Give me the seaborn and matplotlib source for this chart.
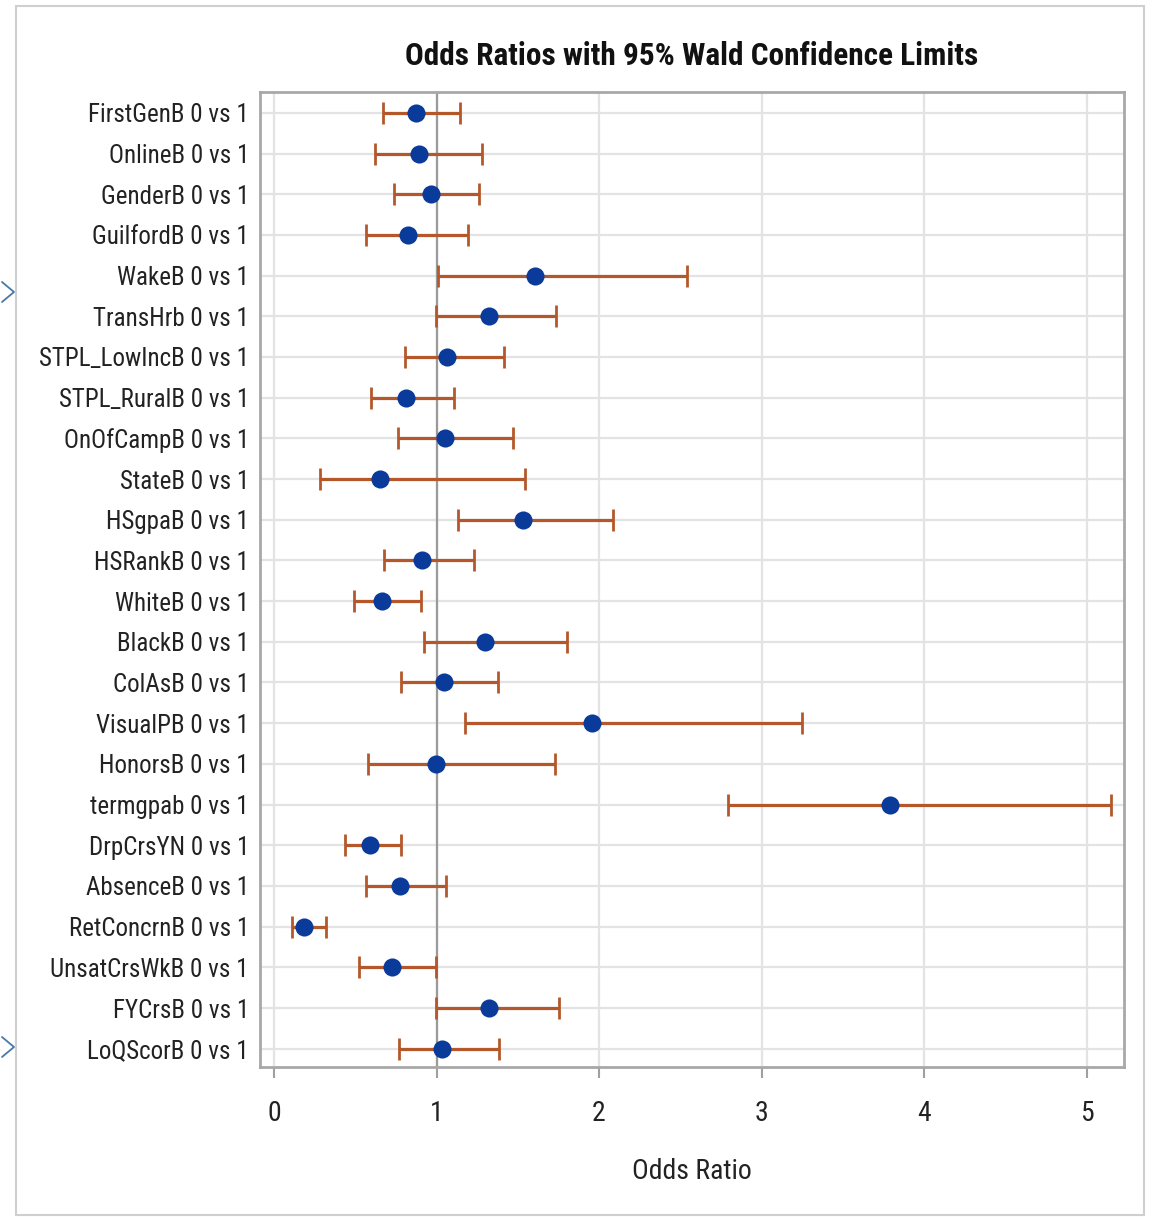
import numpy as np
import pandas as pd
import matplotlib
matplotlib.use("Agg")
import matplotlib.pyplot as plt
from matplotlib.lines import Line2D
from matplotlib.patches import Rectangle
import seaborn as sns

labels = ["FirstGenB 0 vs 1", "OnlineB 0 vs 1", "GenderB 0 vs 1", "GuilfordB 0 vs 1",
          "WakeB 0 vs 1", "TransHrb 0 vs 1", "STPL_LowIncB 0 vs 1", "STPL_RuralB 0 vs 1",
          "OnOfCampB 0 vs 1", "StateB 0 vs 1", "HSgpaB 0 vs 1", "HSRankB 0 vs 1",
          "WhiteB 0 vs 1", "BlackB 0 vs 1", "ColAsB 0 vs 1", "VisualPB 0 vs 1",
          "HonorsB 0 vs 1", "termgpab 0 vs 1", "DrpCrsYN 0 vs 1", "AbsenceB 0 vs 1",
          "RetConcrnB 0 vs 1", "UnsatCrsWkB 0 vs 1", "FYCrsB 0 vs 1", "LoQScorB 0 vs 1"]
odds = [0.871, 0.892, 0.966, 0.826, 1.607, 1.326, 1.066, 0.814, 1.054, 0.652, 1.531, 0.910,
        0.664, 1.296, 1.045, 1.954, 0.999, 3.789, 0.589, 0.773, 0.185, 0.728, 1.326, 1.031]
lower = [0.672, 0.619, 0.738, 0.564, 1.011, 0.998, 0.804, 0.597, 0.761, 0.283, 1.130, 0.674,
         0.490, 0.923, 0.784, 1.175, 0.577, 2.792, 0.436, 0.564, 0.109, 0.523, 0.998, 0.771]
upper = [1.142, 1.281, 1.261, 1.195, 2.540, 1.736, 1.413, 1.109, 1.468, 1.544, 2.087, 1.228,
         0.902, 1.804, 1.380, 3.247, 1.728, 5.148, 0.782, 1.056, 0.318, 0.998, 1.751, 1.382]
xticks = [0, 1, 2, 3, 4, 5]

sns.set_theme(style="white")
FONT = ["Liberation Sans Narrow", "Arial Narrow", "Roboto Condensed", "PT Sans Narrow",
        "Archivo Narrow", "DejaVu Sans"]
plt.rcParams["font.family"] = FONT

df = pd.DataFrame({"label": labels, "odds": odds, "lower": lower, "upper": upper})

fig = plt.figure(figsize=(11.52, 12.18), dpi=100)
ax = fig.add_axes([260 / 1152, 1 - 1067 / 1218, (1124 - 260) / 1152, (1067 - 91.7) / 1218])

pos = np.arange(len(df))
ax.errorbar(df["odds"], pos,
            xerr=[df["odds"] - df["lower"], df["upper"] - df["odds"]],
            fmt="none", ecolor="#B4582C", elinewidth=2.3, capsize=8, capthick=2.0, zorder=3)
sns.scatterplot(data=df, x="odds", y="label", ax=ax, color="#0A3A9A", s=170,
                edgecolor="#0A3A9A", linewidth=0, zorder=4, legend=False)

ax.axvline(1, color="#9a9a9a", lw=1.6, zorder=2)
ax.set_xlim(-0.086, 5.23)
ax.set_ylim(len(df) - 0.55, -0.52)
ax.set_xticks(xticks)
ax.set_xticklabels([str(t) for t in xticks], fontsize=20, color="#222222")
ax.set_yticks(pos)
ax.set_yticklabels(labels, fontsize=18, color="#222222")
ax.grid(True, color="#e3e3e3", lw=1.6, zorder=0)
ax.set_axisbelow(True)
ax.tick_params(axis="x", length=8, width=1.5, color="#a0a0a0", pad=16, direction="out", bottom=True)
ax.tick_params(axis="y", length=0, pad=8)
for s in ax.spines.values():
    s.set_color("#a8a8a8")
    s.set_linewidth(2)
ax.set_xlabel("Odds Ratio", fontsize=20, color="#222222", labelpad=22)
ax.set_ylabel("")

fig.text(692 / 1152, 1 - 56 / 1218, "Odds Ratios with 95% Wald Confidence Limits",
         ha="center", va="center", fontsize=22.5, fontweight="bold", color="#111111")

# outer frame
fig.patches.append(Rectangle((16 / 1152, 1 - 1215 / 1218), (1144 - 16) / 1152, (1215 - 6) / 1218,
                             transform=fig.transFigure, fill=False, edgecolor="#cfcfcf", lw=1.5))
# small chevrons at left edge
for yc in (292, 1047):
    fig.lines.append(Line2D([2 / 1152, 14 / 1152, 2 / 1152],
                            [1 - (yc - 10) / 1218, 1 - yc / 1218, 1 - (yc + 10) / 1218],
                            transform=fig.transFigure, color="#4a78a8", lw=1.3))

fig.savefig("out.png", dpi=100)
